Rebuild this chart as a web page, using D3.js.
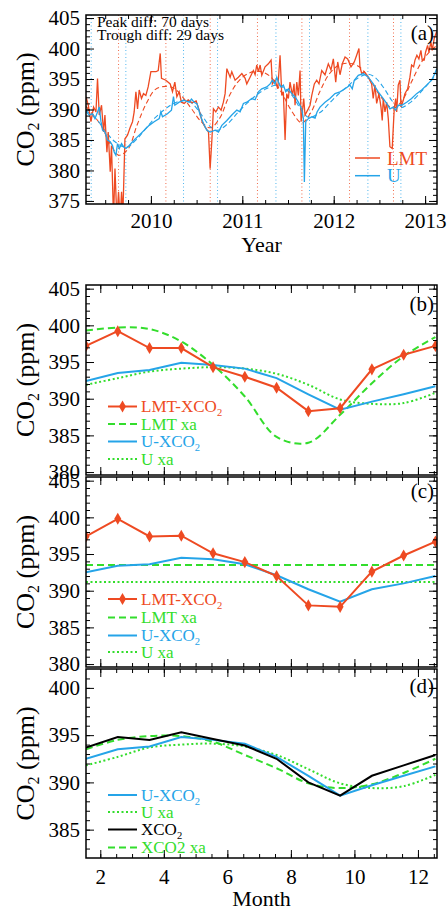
<!DOCTYPE html>
<html><head><meta charset="utf-8">
<script src="https://cdn.jsdelivr.net/npm/d3@7/dist/d3.min.js"></script>
<style>body{margin:0;background:#fff} svg{display:block}</style>
</head><body><svg id="c" width="448" height="910"></svg>
<script>
// ---------- DATA ----------
const yearTicks = [2010, 2011, 2012, 2013];
const lmtDates = [2009.290,2009.315,2009.344,2009.373,2009.399,2009.416,2009.435,2009.460,2009.482,2009.497,
2009.519,2009.533,2009.555,2009.569,2009.591,2009.607,2009.628,2009.646,2009.664,2009.679,
2009.694,2009.716,2009.744,2009.774,2009.799,2009.817,2009.836,2009.854,2009.872,2009.897,
2009.919,2009.945,2009.970,2010.000,2010.055,2010.080,2010.102,2010.116,2010.164,2010.211,
2010.236,2010.262,2010.284,2010.309,2010.334,2010.364,2010.408,2010.451,2010.495,2010.528,
2010.561,2010.593,2010.630,2010.648,2010.667,2010.684,2010.710,2010.739,2010.768,2010.793,
2010.812,2010.831,2010.867,2010.885,2010.921,2010.957,2010.995,2011.031,2011.049,2011.085,
2011.121,2011.140,2011.158,2011.176,2011.195,2011.213,2011.249,2011.285,2011.315,2011.329,
2011.358,2011.388,2011.413,2011.432,2011.449,2011.468,2011.486,2011.504,2011.522,2011.548,
2011.566,2011.577,2011.596,2011.613,2011.632,2011.643,2011.657,2011.672,2011.686,2011.722,
2011.741,2011.760,2011.788,2011.814,2011.839,2011.869,2011.905,2011.941,2011.970,2011.996,
2012.022,2012.044,2012.069,2012.094,2012.124,2012.153,2012.189,2012.225,2012.251,2012.276,
2012.287,2012.306,2012.334,2012.378,2012.415,2012.432,2012.451,2012.470,2012.495,2012.517,
2012.531,2012.542,2012.561,2012.579,2012.597,2012.615,2012.640,2012.662,2012.678,2012.689,
2012.706,2012.725,2012.736,2012.761,2012.779,2012.809,2012.834,2012.852,2012.874,2012.889,
2012.910,2012.932,2012.954,2012.968,2012.990,2013.005,2013.027,2013.042,2013.063,2013.078,
2013.099,2013.126];
const lmtPpm = [392.1,390.7,388.0,390.4,389.6,395.1,389.1,390.7,386.3,389.1,
383.0,386.3,379.8,384.1,372,380.3,372,376.5,372,376.5,
373,385.2,385.8,387.1,388.0,389.6,392.9,390.1,393.2,391.8,
392.6,392.3,393.7,396.2,396.2,396.4,399.2,395.1,394.8,394.2,
392.9,394.5,392.1,392.9,391.2,391.0,391.6,391.1,391.4,389.9,
388.0,387.1,386.3,380.3,385.0,390.1,389.6,390.4,389.9,391.2,
392.6,396.7,395.3,396.2,394.8,395.3,395.9,395.1,394.2,395.3,
396.4,395.7,397.3,396.2,397.3,395.6,397.0,397.5,398.1,394.2,
394.8,393.4,398.9,392.3,392.9,385.0,392.6,391.8,394.5,392.3,
394.2,390.7,394.5,392.3,396.4,388.0,389.6,391.8,389.1,390.1,
390.7,392.3,394.2,394.8,394.2,396.4,395.7,397.5,396.5,398.3,
394.5,397.8,395.7,397.5,398.6,398.3,397.0,397.8,398.9,400.0,
397.0,395.9,396.2,395.3,394.2,391.8,394.0,391.0,392.6,390.4,
388.2,391.8,389.6,391.2,388.5,383.9,383.6,390.1,391.8,389.6,
394.0,394.8,390.4,391.5,392.6,393.4,395.3,397.3,397.0,398.1,
398.9,398.3,399.7,398.1,398.1,399.4,400.5,399.4,401.1,399.7,
401.6,402.8];
const uDates = [2009.293,2009.326,2009.362,2009.388,2009.416,2009.435,2009.454,2009.471,2009.497,2009.526,
2009.555,2009.580,2009.599,2009.617,2009.635,2009.654,2009.679,2009.701,2009.727,2009.763,
2009.817,2009.872,2009.927,2009.981,2010.036,2010.091,2010.109,2010.127,2010.181,2010.225,
2010.247,2010.262,2010.309,2010.364,2010.419,2010.444,2010.473,2010.506,2010.539,2010.575,
2010.612,2010.648,2010.703,2010.739,2010.776,2010.831,2010.885,2010.940,2010.976,2011.012,
2011.049,2011.104,2011.140,2011.176,2011.213,2011.268,2011.304,2011.329,2011.358,2011.377,
2011.395,2011.424,2011.449,2011.475,2011.504,2011.541,2011.577,2011.613,2011.650,2011.668,
2011.679,2011.694,2011.722,2011.760,2011.796,2011.818,2011.850,2011.905,2011.959,2012.014,
2012.069,2012.124,2012.178,2012.203,2012.225,2012.269,2012.324,2012.378,2012.433,2012.487,
2012.542,2012.579,2012.615,2012.651,2012.678,2012.706,2012.743,2012.798,2012.852,2012.907,
2012.962,2013.016,2013.071,2013.107,2013.126];
const uPpm = [389.6,389.1,389.3,388.5,389.6,390.4,388.0,386.6,386.3,385.0,
384.7,384.1,383.0,382.5,384.4,383.6,384.4,383.9,383.6,384.1,
385.0,385.8,386.6,387.4,388.0,388.5,389.6,388.8,389.3,389.9,
392.1,390.7,391.2,391.5,391.2,391.7,391.2,390.9,389.1,387.7,
386.6,386.3,386.6,386.3,387.4,388.2,389.1,389.9,389.6,391.0,
391.2,391.8,391.6,392.9,393.4,393.7,394.2,394.8,394.2,395.3,
394.5,393.7,394.0,392.9,393.4,392.6,392.1,391.2,390.1,388.5,
378.1,388.0,388.5,388.8,388.6,389.6,390.4,391.2,391.8,392.6,
392.9,393.4,394.0,393.4,394.8,395.6,395.9,395.3,394.2,392.9,
391.8,391.0,390.1,390.4,389.9,390.7,390.7,391.2,391.8,392.6,
393.2,394.0,394.8,395.9,396.7];
const lmtFitDates = [2009.29,2009.45,2009.55,2009.65,2009.75,2009.85,2009.95,2010.05,2010.16,2010.25,2010.35,2010.45,2010.55,2010.65,2010.75,2010.85,2010.95,2011.05,2011.17,2011.30,2011.42,2011.55,2011.65,2011.75,2011.85,2011.95,2012.05,2012.17,2012.28,2012.40,2012.52,2012.65,2012.75,2012.85,2012.95,2013.05,2013.13];
const lmtFitPpm  = [390.5,387.5,384.5,382.5,383.5,387.5,391.0,393.3,393.8,393.5,392.0,390.0,388.0,387.0,388.5,392.0,394.5,395.8,396.3,395.5,393.0,389.5,387.8,389.5,393.0,395.8,397.2,397.6,397.0,394.8,392.0,390.2,391.5,394.5,397.5,399.5,400.5];
const uFitDates = [2009.29,2009.40,2009.50,2009.60,2009.73,2009.85,2009.95,2010.05,2010.15,2010.25,2010.36,2010.45,2010.55,2010.65,2010.73,2010.85,2010.95,2011.05,2011.15,2011.25,2011.37,2011.45,2011.55,2011.65,2011.73,2011.85,2011.95,2012.05,2012.15,2012.25,2012.37,2012.45,2012.55,2012.65,2012.73,2012.85,2012.95,2013.05,2013.13];
const uFitPpm  = [389.8,388.5,386.5,384.8,383.8,385.2,387.0,388.7,390.0,391.0,391.5,391.0,389.2,387.2,386.6,387.8,389.5,391.0,392.3,393.3,394.0,393.6,392.2,389.8,388.7,389.5,391.0,392.5,393.8,395.0,395.8,395.3,393.5,391.2,390.3,391.3,392.8,394.5,395.8];
const lmtPeaks = [2010.164, 2011.166, 2012.173];
const lmtTroughs = [2009.646, 2010.649, 2011.652, 2012.654];
const uPeaks = [2009.347, 2010.357, 2011.368, 2012.374];
const uTroughs = [2009.726, 2010.729, 2011.735, 2012.735];

const monthPos = [1.55,2.55,3.55,4.55,5.55,6.55,7.55,8.55,9.55,10.55,11.55,12.55];
const monthTicks = [2,4,6,8,10,12];
// panel b
const b_lmt   = [397.2,399.2,396.9,396.9,394.3,393.0,391.5,388.3,388.7,394.0,396.0,397.2];
const b_lmtXa = [399.3,399.7,399.5,397.8,394.6,390.3,384.8,384.0,387.8,392.1,395.8,398.4];
const b_u     = [392.4,393.5,393.9,394.9,394.6,394.1,392.8,390.6,388.5,389.6,390.6,391.7];
const b_uXa   = [391.9,392.8,393.7,394.1,394.3,394.1,393.4,391.9,389.9,389.3,389.4,390.8];
// panel c
const c_lmt   = [397.4,399.8,397.4,397.5,395.1,393.9,392.0,388.0,387.8,392.6,394.8,396.7];
const c_lmtXa = [393.5,393.5,393.5,393.5,393.5,393.5,393.5,393.5,393.5,393.5,393.5,393.5];
const c_u     = [392.5,393.4,393.6,394.5,394.3,393.6,392.1,390.2,388.5,390.2,391.0,392.0];
const c_uXa   = [391.2,391.2,391.2,391.2,391.2,391.2,391.2,391.2,391.2,391.2,391.2,391.2];
// panel d
const d_u     = [392.5,393.5,393.8,394.8,394.5,394.1,392.7,390.7,388.6,389.7,390.7,391.7];
const d_uXa   = [391.8,392.7,393.7,394.0,394.1,393.8,392.9,391.4,389.9,389.4,389.6,390.8];
const d_x     = [393.7,394.8,394.5,395.3,394.6,393.9,392.5,390.0,388.6,390.7,391.8,392.9];
const d_xXa   = [393.5,394.5,394.9,394.9,394.3,392.9,391.5,389.9,389.4,389.8,391.0,392.5];

// ---------- DRAWING ----------
const FONT = '"Liberation Serif","Times New Roman",serif';
const RED = '#ee4a22', BLUE = '#25a4e8', GREEN = '#33dd2c';
const svg = d3.select('#c').attr('font-family', FONT);
const L = 86, W = 351;

function range(a, b, s) { const r = []; for (let v = a; v <= b + 1e-9; v += s) r.push(+v.toFixed(3)); return r; }

function styleAx(sel, fs) {
  sel.select('.domain').remove();
  sel.selectAll('line').attr('stroke', '#000').attr('stroke-width', 1);
  sel.selectAll('text').attr('font-size', fs).attr('fill', '#000').attr('font-family', FONT);
}

function frame(g, x, y, h, o) {
  const none = () => '';
  g.append('g').attr('transform', `translate(0,${h})`)
    .call(d3.axisBottom(x).tickValues(o.xMajor).tickSizeInner(-8).tickSizeOuter(0).tickPadding(o.xPad).tickFormat(o.xLabels ? d3.format('d') : none))
    .call(s => styleAx(s, 21));
  g.append('g').attr('transform', `translate(0,${h})`)
    .call(d3.axisBottom(x).tickValues(o.xMinor).tickSizeInner(-4).tickSizeOuter(0).tickFormat(none)).call(s => styleAx(s, 21));
  g.append('g').call(d3.axisTop(x).tickValues(o.xMajor).tickSizeInner(-8).tickSizeOuter(0).tickFormat(none)).call(s => styleAx(s, 21));
  g.append('g').call(d3.axisTop(x).tickValues(o.xMinor).tickSizeInner(-4).tickSizeOuter(0).tickFormat(none)).call(s => styleAx(s, 21));
  g.append('g').call(d3.axisLeft(y).tickValues(o.yMajor).tickSizeInner(-8).tickSizeOuter(0).tickPadding(6).tickFormat(d3.format('d')))
    .call(s => styleAx(s, 21));
  g.append('g').call(d3.axisLeft(y).tickValues(o.yMinor).tickSizeInner(-4).tickSizeOuter(0).tickFormat(none)).call(s => styleAx(s, 21));
  g.append('g').attr('transform', `translate(${W},0)`).call(d3.axisRight(y).tickValues(o.yMajor).tickSizeInner(-8).tickSizeOuter(0).tickFormat(none)).call(s => styleAx(s, 21));
  g.append('g').attr('transform', `translate(${W},0)`).call(d3.axisRight(y).tickValues(o.yMinor).tickSizeInner(-4).tickSizeOuter(0).tickFormat(none)).call(s => styleAx(s, 21));
  g.append('rect').attr('width', W).attr('height', h).attr('fill', 'none').attr('stroke', '#000').attr('stroke-width', 1.5);
  // y title
  const t = g.append('text').attr('transform', `translate(${25 - L},${h / 2}) rotate(-90)`)
    .attr('text-anchor', 'middle').attr('font-size', 26).attr('dy', '0.35em');
  t.append('tspan').text('CO');
  t.append('tspan').text('2').attr('font-size', 16).attr('dy', 5);
  t.append('tspan').text(' (ppm)').attr('dy', -5);
  // panel label
  g.append('text').attr('x', W - 3).attr('y', o.labY).attr('text-anchor', 'end').attr('font-size', 21).text(o.label);
}

function subText(g, x, y, main, sub, color, fs) {
  const t = g.append('text').attr('x', x).attr('y', y).attr('dy', '0.33em').attr('font-size', fs).attr('fill', color);
  t.append('tspan').text(main);
  if (sub) { t.append('tspan').text(sub).attr('font-size', fs * 0.62).attr('dy', 4); }
  return t;
}

// ===== Panel (a) =====
{
  const top = 15, h = 189;
  const g = svg.append('g').attr('transform', `translate(${L},${top})`);
  const x = d3.scaleLinear().domain([2009.29, 2013.13]).range([0, W]);
  const y = d3.scaleLinear().domain([374.5, 405.5]).range([h, 0]);
  g.append('clipPath').attr('id', 'clipA').append('rect').attr('width', W).attr('height', h);
  const pg = g.append('g').attr('clip-path', 'url(#clipA)');
  const vl = (arr, col) => pg.selectAll(null).data(arr).enter().append('line')
    .attr('x1', d => x(d)).attr('x2', d => x(d)).attr('y1', 0).attr('y2', h)
    .attr('stroke', col).attr('stroke-width', 1).attr('stroke-opacity', 0.8).attr('stroke-dasharray', '1,2.5');
  vl(lmtPeaks, RED); vl(lmtTroughs, RED); vl(uPeaks, BLUE); vl(uTroughs, BLUE);
  const line = d3.line().x(d => x(d[0])).y(d => y(d[1]));
  const z = (a, b) => a.map((d, i) => [d, b[i]]);
  pg.append('path').datum(z(lmtFitDates, lmtFitPpm)).attr('d', line.curve(d3.curveCatmullRom)).attr('fill', 'none').attr('stroke', RED).attr('stroke-width', 1.1).attr('stroke-dasharray', '5,3');
  pg.append('path').datum(z(uFitDates, uFitPpm)).attr('d', line.curve(d3.curveCatmullRom)).attr('fill', 'none').attr('stroke', BLUE).attr('stroke-width', 1.1).attr('stroke-dasharray', '5,3');
  line.curve(d3.curveLinear);
  pg.append('path').datum(z(lmtDates, lmtPpm)).attr('d', line).attr('fill', 'none').attr('stroke', RED).attr('stroke-width', 1.3);
  pg.append('path').datum(z(uDates, uPpm)).attr('d', line).attr('fill', 'none').attr('stroke', BLUE).attr('stroke-width', 1.3);
  frame(g, x, y, h, { xMajor: yearTicks, xMinor: range(2009.5, 2013.0, 0.25), xPad: 9, xLabels: true,
    yMajor: range(375, 405, 5), yMinor: range(375, 405, 1), label: '(a)', labY: 25 });
  g.append('text').attr('x', 11).attr('y', 12).attr('font-size', 15.5).text('Peak diff: 70 days');
  g.append('text').attr('x', 11).attr('y', 25).attr('font-size', 15.5).text('Trough diff: 29 days');
  // legend
  [[ 'LMT', RED, 158 ], [ 'U', BLUE, 175.7 ]].forEach(([lab, col, yy]) => {
    g.append('line').attr('x1', 269).attr('x2', 294).attr('y1', yy - top).attr('y2', yy - top).attr('stroke', col).attr('stroke-width', 1.5);
    g.append('text').attr('x', 301).attr('y', yy - top).attr('dy', '0.35em').attr('font-size', 19).attr('fill', col).text(lab);
  });
  g.append('text').attr('x', W / 2).attr('y', 244 - top).attr('text-anchor', 'middle').attr('font-size', 22).attr('dy', '0.35em').text('Year');
}

// ===== Monthly panels =====
function monthlyPanel(top, h, yDom, yMajor, yMinor, series, legend, legY, label, labY, bottomLabels) {
  const g = svg.append('g').attr('transform', `translate(${L},${top})`);
  const x = d3.scaleLinear().domain([1.55, 12.6]).range([0, W]);
  const y = d3.scaleLinear().domain(yDom).range([h, 0]);
  const id = 'clip' + label.replace(/\W/g, '');
  g.append('clipPath').attr('id', id).append('rect').attr('width', W).attr('height', h);
  const pg = g.append('g').attr('clip-path', `url(#${id})`);
  series.forEach(s => {
    const line = d3.line().x((d, i) => x(monthPos[i])).y(d => y(d)).curve(s.smooth ? d3.curveCatmullRom : d3.curveLinear);
    pg.append('path').datum(s.data).attr('d', line).attr('fill', 'none').attr('stroke', s.color)
      .attr('stroke-width', s.w || 2).attr('stroke-dasharray', s.dash || null);
    if (s.marker) {
      pg.selectAll(null).data(s.data).enter().append('path')
        .attr('d', d3.symbol(d3.symbolDiamond, 42))
        .attr('transform', (d, i) => `translate(${x(monthPos[i])},${y(d)})`).attr('fill', s.color);
    }
  });
  frame(g, x, y, h, { xMajor: monthTicks, xMinor: range(2, 12.5, 0.5), xPad: 11, xLabels: bottomLabels,
    yMajor: yMajor, yMinor: yMinor, label: label, labY: labY });
  legend.forEach((s, i) => {
    const yy = legY[i] - top;
    g.append('line').attr('x1', 22).attr('x2', 51).attr('y1', yy).attr('y2', yy).attr('stroke', s.color)
      .attr('stroke-width', 2).attr('stroke-dasharray', s.dash || null);
    if (s.marker) g.append('path').attr('d', d3.symbol(d3.symbolDiamond, 42)).attr('transform', `translate(36.5,${yy})`).attr('fill', s.color);
    subText(g, 55, yy, s.name, s.sub, s.tcolor || s.color, 17);
  });
  return g;
}

const lmtS  = { name: 'LMT-XCO', sub: '2', color: RED, marker: true };
const lmtXa = { name: 'LMT xa', color: GREEN, dash: '7,4', smooth: true };
const uS    = { name: 'U-XCO', sub: '2', color: BLUE };
const uXa   = { name: 'U xa', color: GREEN, dash: '2,2.5', smooth: true };

monthlyPanel(285, 190, [379.6, 405.5], range(380, 405, 5), range(380, 405, 1),
  [ Object.assign({ data: b_lmtXa }, lmtXa), Object.assign({ data: b_uXa }, uXa), Object.assign({ data: b_u }, uS), Object.assign({ data: b_lmt }, lmtS) ],
  [lmtS, lmtXa, uS, uXa], [406.5, 424, 441.5, 459], '(b)', 26, false);

monthlyPanel(477, 190, [379.6, 405.5], range(380, 405, 5), range(380, 405, 1),
  [ Object.assign({ data: c_lmtXa }, lmtXa, {smooth:false}), Object.assign({ data: c_uXa }, uXa, {smooth:false}), Object.assign({ data: c_u }, uS), Object.assign({ data: c_lmt }, lmtS) ],
  [lmtS, lmtXa, uS, uXa], [599, 617.5, 635.5, 652], '(c)', 21, false);

const gd = monthlyPanel(669, 189, [382, 402], range(385, 400, 5), range(383, 401, 1),
  [ Object.assign({ data: d_uXa }, uXa), Object.assign({ data: d_xXa }, { color: GREEN, dash: '7,4', smooth: true }),
    Object.assign({ data: d_u }, uS), { data: d_x, color: '#000' } ],
  [uS, uXa, { name: 'XCO', sub: '2', color: '#000' }, { name: 'XCO2 xa', color: GREEN, dash: '7,4' }],
  [795, 812, 829.5, 847.5], '(d)', 24, true);
gd.append('text').attr('x', W / 2).attr('y', 898 - 669).attr('text-anchor', 'middle').attr('font-size', 22).attr('dy', '0.35em').text('Month');
</script></body></html>
